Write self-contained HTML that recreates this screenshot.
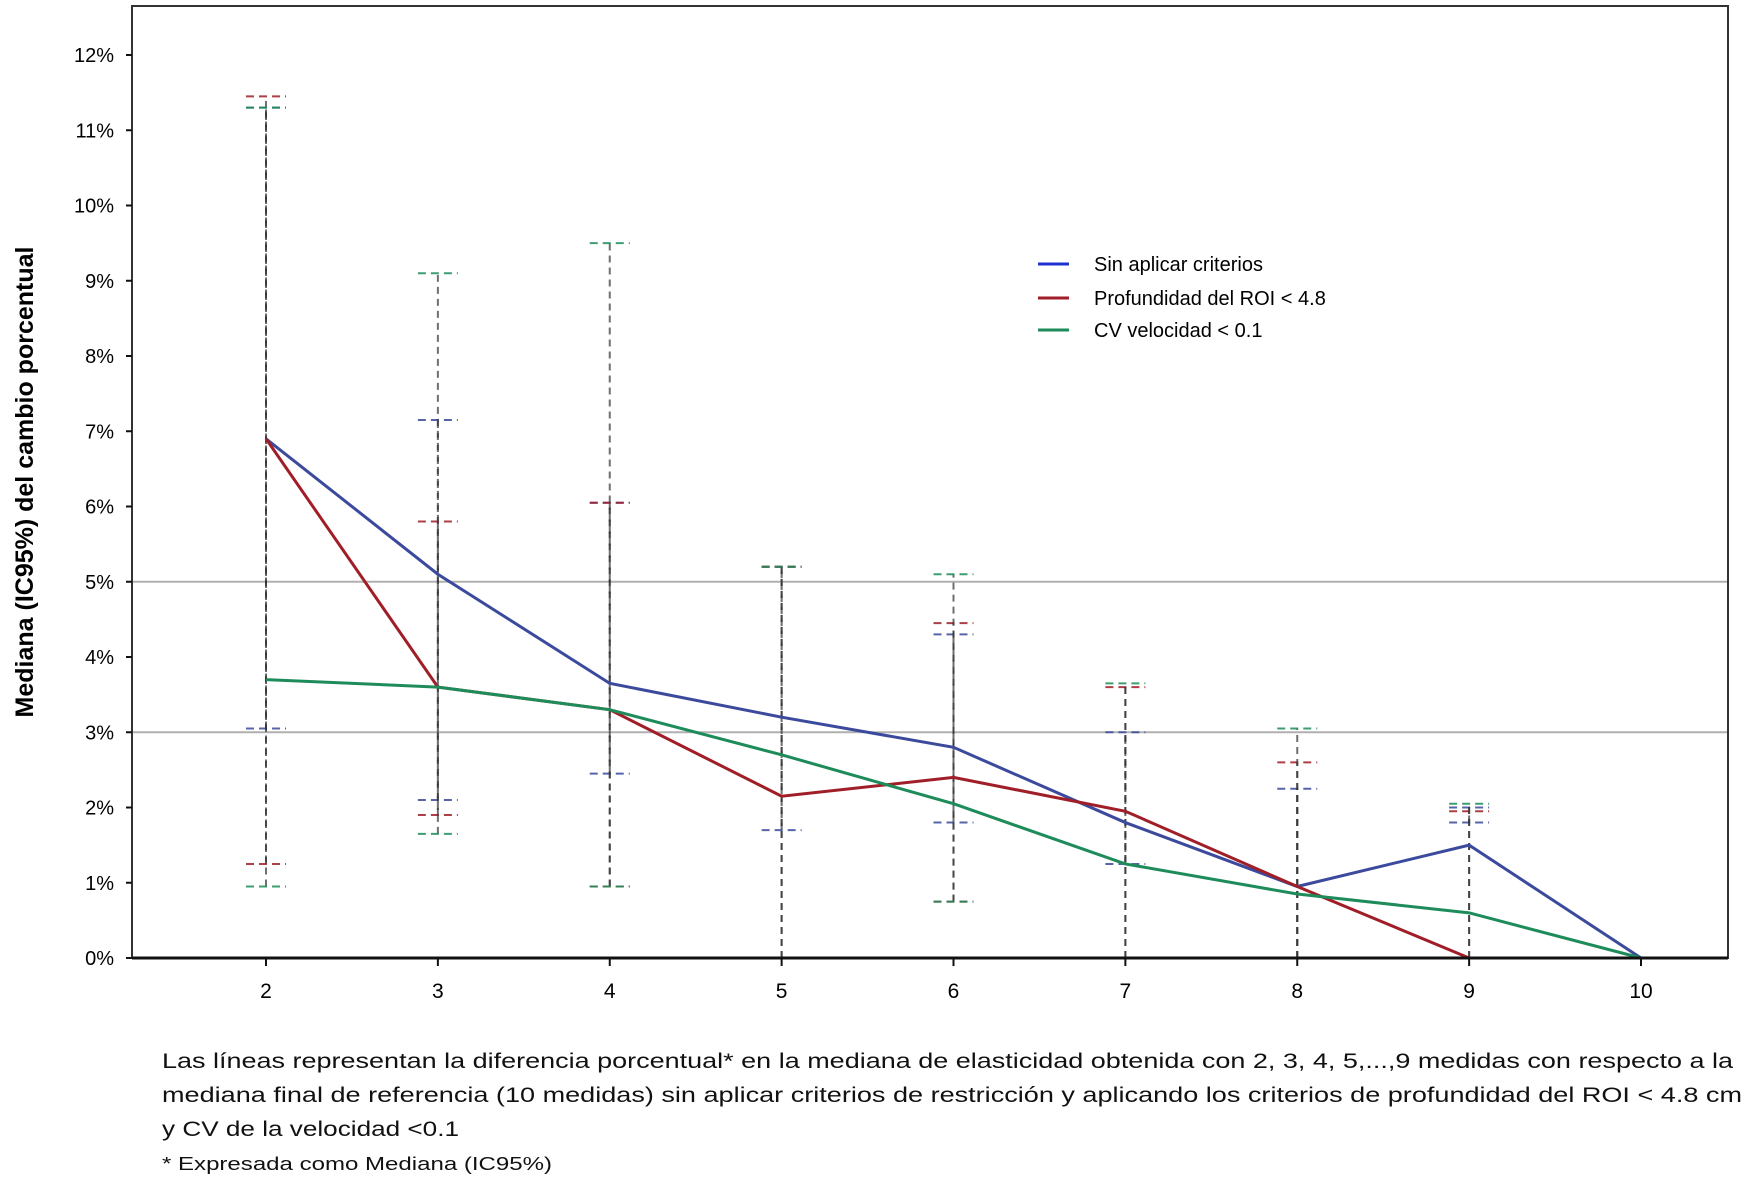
<!DOCTYPE html>
<html><head><meta charset="utf-8"><style>
html,body{margin:0;padding:0;background:#fff;}
svg{display:block;font-family:"Liberation Sans",sans-serif;}
</style></head><body>
<svg id="chart" width="1750" height="1182" viewBox="0 0 1750 1182" xmlns="http://www.w3.org/2000/svg">
<g id="grid"></g><g id="bars"></g><g id="lines"></g><g id="axes"></g>
<g id="legend">
 <line x1="1038" y1="264" x2="1069" y2="264" stroke="#1f2fd0" stroke-width="3"/>
 <text x="1094" y="271" font-size="20">Sin aplicar criterios</text>
 <line x1="1038" y1="298" x2="1069" y2="298" stroke="#a01e28" stroke-width="3"/>
 <text x="1094" y="305" font-size="20">Profundidad del ROI &lt; 4.8</text>
 <line x1="1038" y1="330" x2="1069" y2="330" stroke="#1e8c5a" stroke-width="3"/>
 <text x="1094" y="337" font-size="20">CV velocidad &lt; 0.1</text>
</g>
<text transform="translate(33,482) rotate(-90)" text-anchor="middle" font-size="25" font-weight="bold">Mediana (IC95%) del cambio porcentual</text>
<g font-size="21" fill="#111">
 <text x="162" y="1068" textLength="1571" lengthAdjust="spacingAndGlyphs">Las líneas representan la diferencia porcentual* en la mediana de elasticidad obtenida con 2, 3, 4, 5,...,9 medidas con respecto a la</text>
 <text x="162" y="1102" textLength="1580" lengthAdjust="spacingAndGlyphs">mediana final de referencia (10 medidas) sin aplicar criterios de restricción y aplicando los criterios de profundidad del ROI &lt; 4.8 cm</text>
 <text x="162" y="1136" textLength="297" lengthAdjust="spacingAndGlyphs">y CV de la velocidad &lt;0.1</text>
 <text x="162" y="1170" font-size="18" textLength="390" lengthAdjust="spacingAndGlyphs">* Expresada como Mediana (IC95%)</text>
</g>
</svg>
<script>
const categories=[2,3,4,5,6,7,8,9,10];
const yTicks=[0,1,2,3,4,5,6,7,8,9,10,11,12];
const refLines=[3,5];
const blueValues=[6.9,5.1,3.65,3.2,2.8,1.8,0.95,1.5,0];
const redValues=[6.9,3.6,3.3,2.15,2.4,1.95,0.95,0,0];
const greenValues=[3.7,3.6,3.3,2.7,2.05,1.25,0.85,0.6,0];
const blueLow=[3.05,2.1,2.45,1.7,1.8,1.25,0,1.8,0];
const blueHigh=[11.3,7.15,6.05,5.2,4.3,3.0,2.25,2.0,0];
const redLow=[1.25,1.9,0.95,0,0.75,0,0,0,0];
const redHigh=[11.45,5.8,6.05,5.2,4.45,3.6,2.6,1.95,0];
const greenLow=[0.95,1.65,0.95,0,0.75,0,0,0,0];
const greenHigh=[11.3,9.1,9.5,5.2,5.1,3.65,3.05,2.05,0];
const NS="http://www.w3.org/2000/svg";
const L=132,R=1728,T=6,B=958;
function xS(c){return 266+(c-2)*(1641-266)/8;}
function yS(v){return 958-v*(958-55)/12;}
function mk(tag,attrs,parent){const e=document.createElementNS(NS,tag);for(const k in attrs)e.setAttribute(k,attrs[k]);document.getElementById(parent).appendChild(e);return e;}
refLines.forEach(v=>{const e=mk('line',{x1:L,x2:R,y1:yS(v),y2:yS(v),stroke:'#b0b0b0','stroke-width':2},'grid');

});
const series=[{n:'sin-criterios',c:'#3b4a9c',v:blueValues,lo:blueLow,hi:blueHigh},{n:'profundidad',c:'#a01e28',v:redValues,lo:redLow,hi:redHigh},{n:'cv',c:'#1e8c5a',v:greenValues,lo:greenLow,hi:greenHigh}];
series.forEach(s=>{categories.forEach((c,i)=>{if(s.hi[i]<=0)return;const x=xS(c);
const w=mk('line',{x1:x,x2:x,y1:yS(s.lo[i]),y2:yS(s.hi[i]),stroke:'#333','stroke-width':2,'stroke-dasharray':'7,5',opacity:0.7},'bars');


[s.lo[i],s.hi[i]].forEach(v=>{if(v<=0)return;const cap=mk('line',{x1:x-20,x2:x+20,y1:yS(v),y2:yS(v),stroke:s.c,'stroke-width':2,'stroke-dasharray':'8,5',opacity:0.85},'bars');

});});});
series.forEach(s=>{const p=mk('polyline',{points:categories.map((c,i)=>xS(c)+','+yS(s.v[i])).join(' '),fill:'none',stroke:s.c,'stroke-width':3},'lines');

});
const fr=mk('rect',{x:L,y:T,width:R-L,height:B-T,fill:'none',stroke:'#333','stroke-width':2},'axes');


const xa=mk('line',{x1:L,x2:R,y1:B,y2:B,stroke:'#111','stroke-width':3},'axes');


yTicks.forEach(v=>{const y=yS(v);mk('line',{x1:L-6,x2:L,y1:y,y2:y,stroke:'#111','stroke-width':2},'axes');
const t=mk('text',{x:L-18,y:y+7,'text-anchor':'end','font-size':20},'axes');t.textContent=v+'%';

});
categories.forEach(c=>{const x=xS(c);mk('line',{x1:x,x2:x,y1:B,y2:B+8,stroke:'#111','stroke-width':2},'axes');
const t=mk('text',{x:x,y:998,'text-anchor':'middle','font-size':21},'axes');t.textContent=c;

});
</script>
</body></html>
